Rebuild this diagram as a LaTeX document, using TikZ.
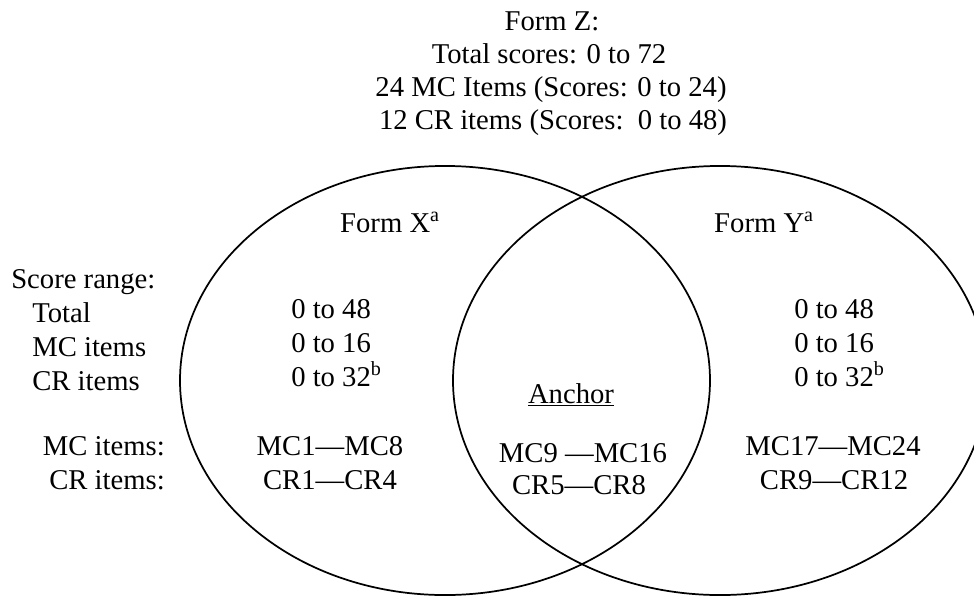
\documentclass[tikz,border=0pt]{standalone}
\usepackage{fontspec}
\setmainfont{Liberation Serif}
\begin{document}
\begin{tikzpicture}[x=0.75pt,y=-0.75pt,
  txt/.style={inner sep=0pt,font=\fontsize{21.5}{25}\selectfont},
  ring/.style={line width=1.3pt}]
\useasboundingbox (0,0) rectangle (974,596);
% ellipses
\draw[ring] (445,380.5) ellipse [x radius=198.75pt, y radius=160.9pt];
\draw[ring] (720,380.5) ellipse [x radius=200.25pt, y radius=160.9pt];
% Form Z block
\node[txt,anchor=base] (z1) at (552,30) {Form Z:};
\node[txt,anchor=base] (z2) at (549,63) {Total scores: 0 to 72};
\node[txt,anchor=base] (z3) at (551,96) {24 MC Items (Scores: 0 to 24)};
\node[txt,anchor=base] (z4) at (553,129) {12 CR items (Scores:\ \ 0 to 48)};
% Form titles
\node[txt,anchor=base] (fx) at (390,232) {Form X\textsuperscript{a}};
\node[txt,anchor=base] (fy) at (764,232) {Form Y\textsuperscript{a}};
% left labels
\node[txt,anchor=base west] (sr) at (11,288) {Score range:};
\node[txt,anchor=base west] (lt) at (32,322) {Total};
\node[txt,anchor=base west] (lmc) at (32,356) {MC items};
\node[txt,anchor=base west] (lcr) at (32,390) {CR items};
\node[txt,anchor=base east] (imc) at (165,455) {MC items:};
\node[txt,anchor=base east] (icr) at (165,489) {CR items:};
% Form X values
\node[txt,anchor=base west] (x1) at (291,318) {0 to 48};
\node[txt,anchor=base west] (x2) at (291,352) {0 to 16};
\node[txt,anchor=base west] (x3) at (291,386) {0 to 32\textsuperscript{b}};
\node[txt,anchor=base] (xm) at (330,455) {MC1—MC8};
\node[txt,anchor=base] (xc) at (330,489) {CR1—CR4};
% Form Y values
\node[txt,anchor=base west] (y1) at (794,318) {0 to 48};
\node[txt,anchor=base west] (y2) at (794,352) {0 to 16};
\node[txt,anchor=base west] (y3) at (794,386) {0 to 32\textsuperscript{b}};
\node[txt,anchor=base] (ym) at (833,455) {MC17—MC24};
\node[txt,anchor=base] (yc) at (834,489) {CR9—CR12};
% Anchor
\node[txt,anchor=base] (an) at (571,403) {\underline{Anchor}};
\node[txt,anchor=base] (am) at (583,462) {MC9 —MC16};
\node[txt,anchor=base] (ac) at (579,494) {CR5—CR8};
\end{tikzpicture}
\end{document}
